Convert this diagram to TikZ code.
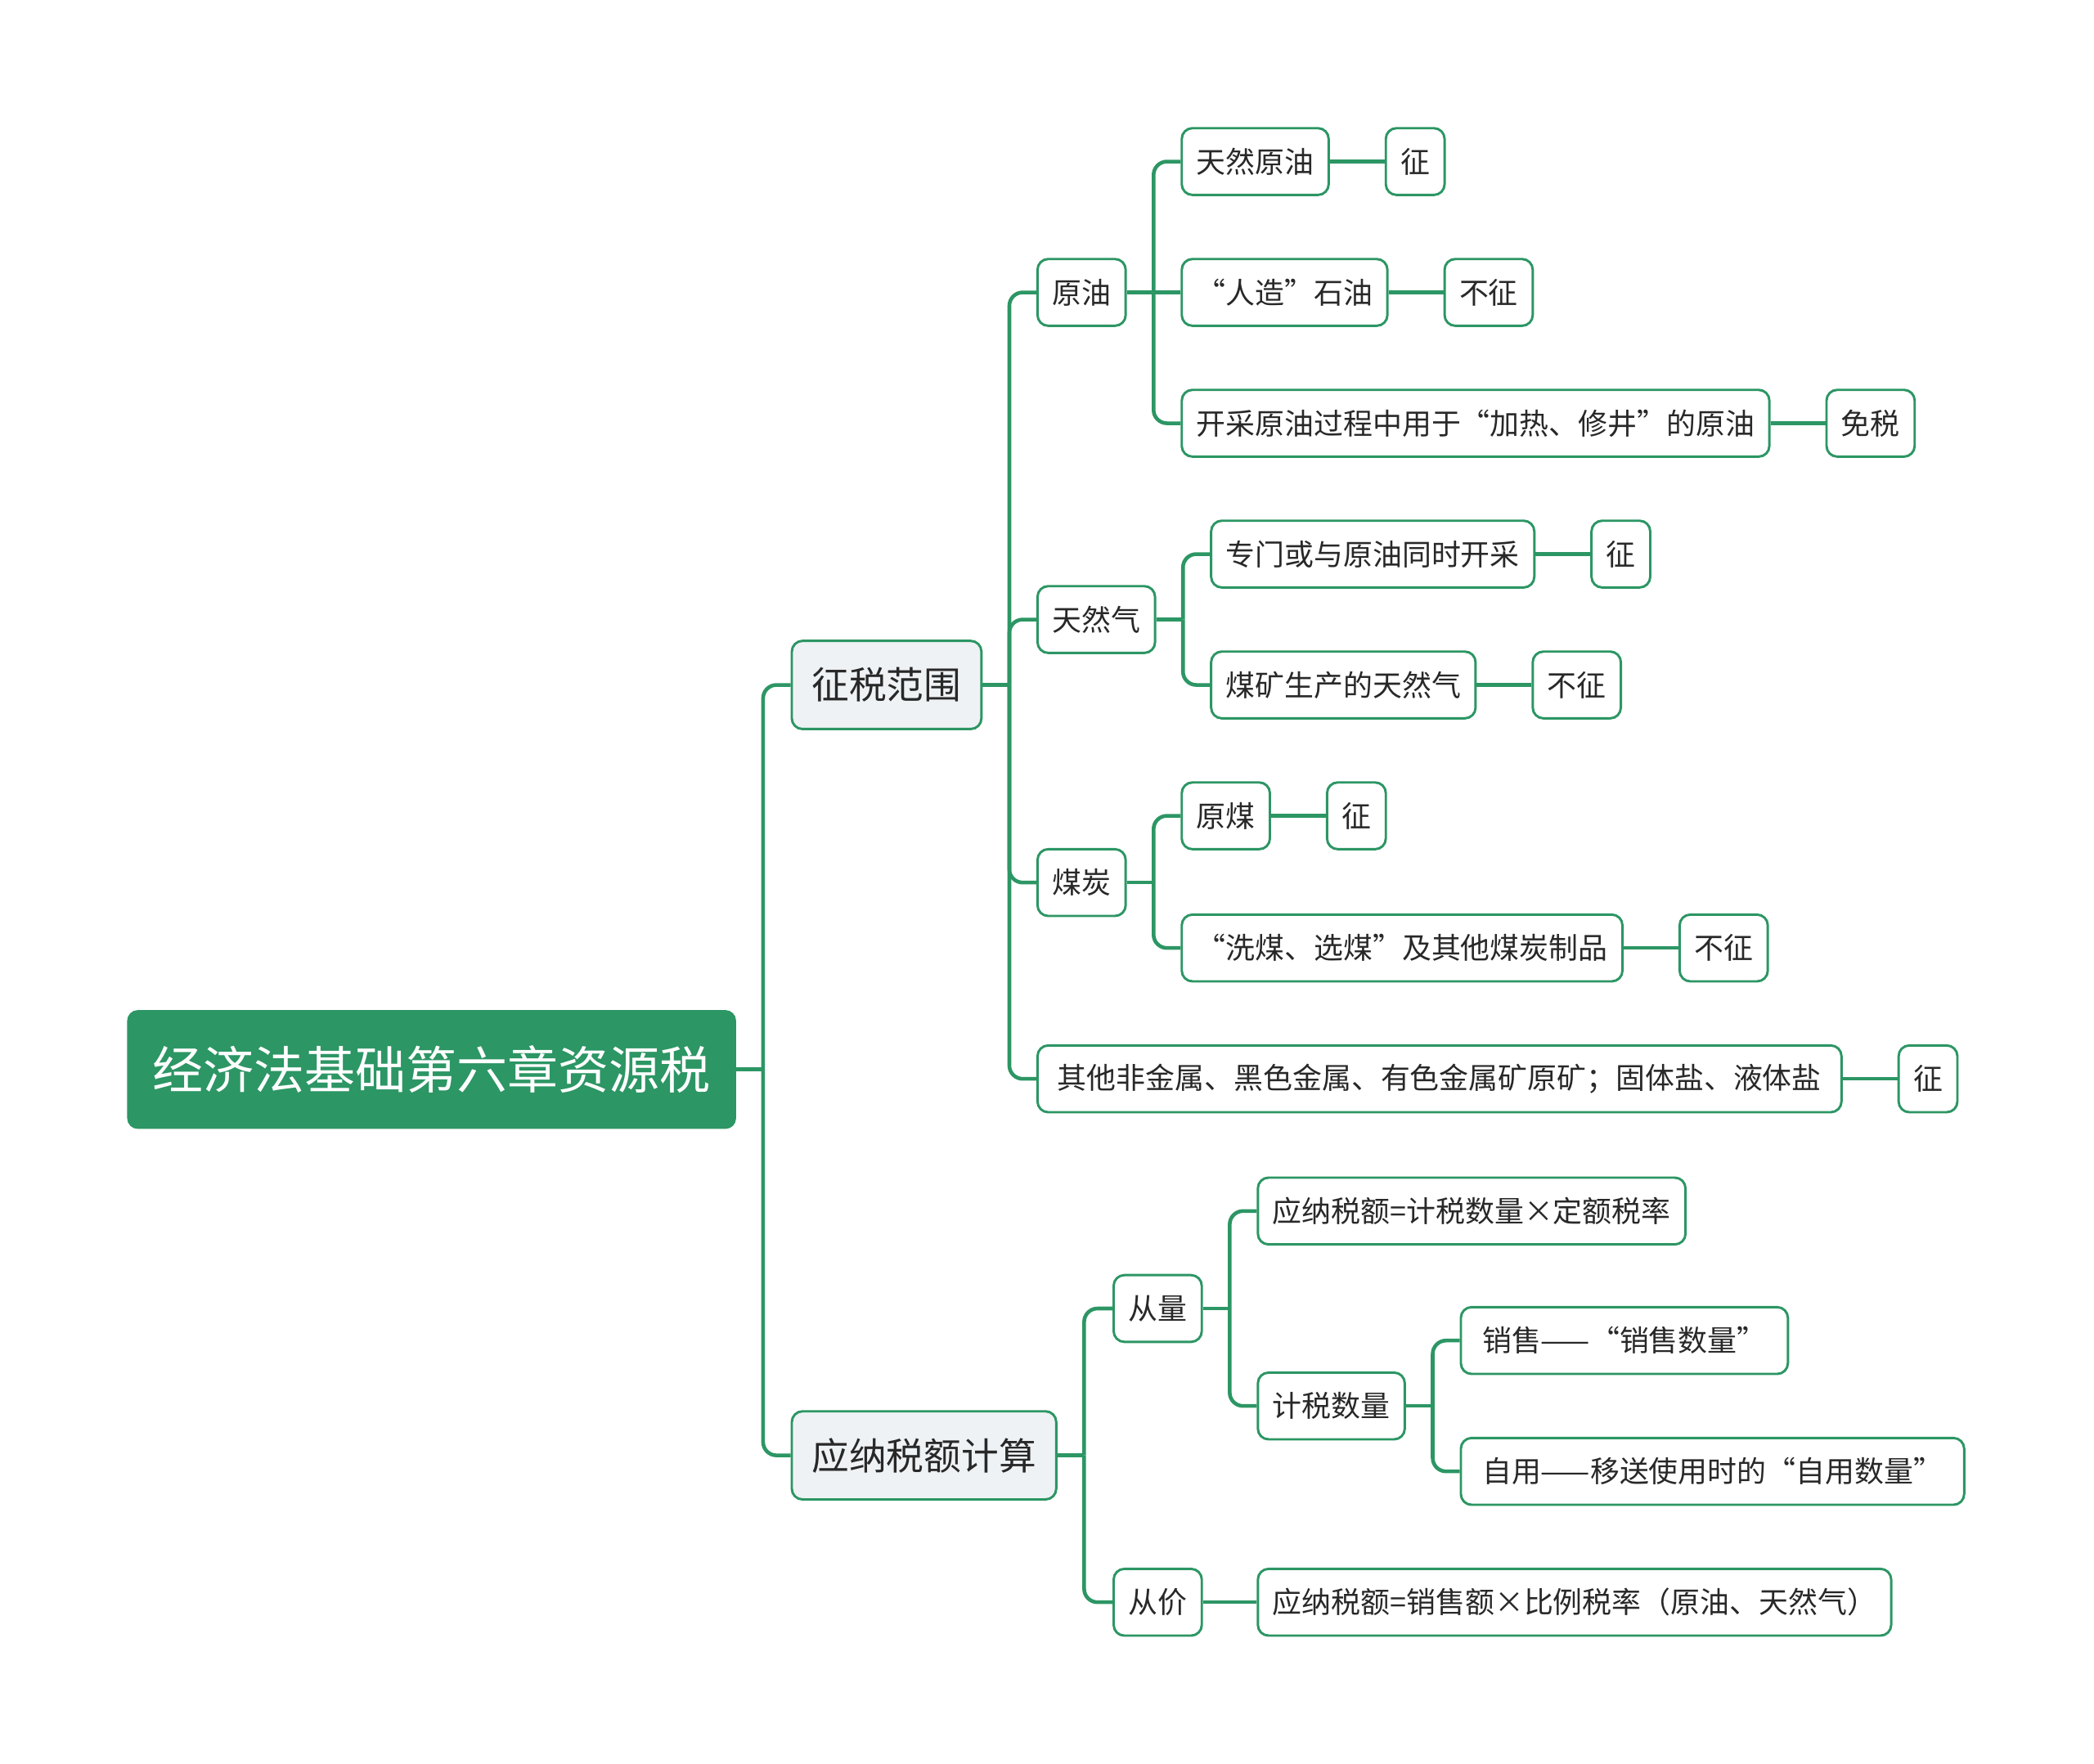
\documentclass[tikz,border=0pt]{standalone}
\usepackage{fontspec}
\setmainfont{Noto Sans CJK SC}
\usetikzlibrary{positioning,backgrounds}
\definecolor{mapgreen}{RGB}{44,150,100}
\definecolor{topicfill}{RGB}{238,242,245}
\definecolor{maptext}{RGB}{40,40,40}
\tikzset{
  map link/.style={line width=2.8pt,draw=mapgreen,rounded corners=10pt},
  map root/.style={rectangle,rounded corners=8pt,fill=mapgreen,text=white,
    font=\fontsize{38}{44}\selectfont,minimum height=89pt,inner xsep=19pt},
  map main/.style={rectangle,rounded corners=8pt,draw=mapgreen,line width=1.8pt,
    fill=topicfill,text=maptext,font=\fontsize{28}{32}\selectfont,
    minimum height=66pt,inner xsep=15pt},
  map sub/.style={rectangle,rounded corners=8pt,draw=mapgreen,line width=1.8pt,
    fill=white,text=maptext,font=\fontsize{22}{26}\selectfont,
    minimum height=50pt,inner xsep=11pt},
  map leaf/.style={map sub,right=41pt of #1}
}

\begin{document}
\begin{tikzpicture}[x=1pt,y=-1pt]
  \useasboundingbox (0,0) rectangle (1568,1321);
  % root and main branches
  \node[map root,anchor=west] (root) at (95,801) {经济法基础第六章资源税};
  \node[map main,anchor=west] (fs) at (592,513) {征税范围};
  \node[map main,anchor=west] (js) at (592,1090) {应纳税额计算};
  % tax scope
  \node[map sub,anchor=west] (yy) at (776,219) {原油};
  \node[map sub,anchor=west] (trq) at (776,464) {天然气};
  \node[map sub,anchor=west] (mt) at (776,661) {煤炭};
  \node[map sub,anchor=west,inner xsep=15pt] (qt) at (776,808) {其他非金属、黑色金属、有色金属矿原矿；固体盐、液体盐};
  \node[map sub,anchor=west] (yy1) at (884,121) {天然原油};
  \node[map sub,anchor=west] (yy2) at (884,219) {“人造”石油};
  \node[map sub,anchor=west] (yy3) at (884,317) {开采原油过程中用于“加热、修井”的原油};
  \node[map sub,anchor=west] (trq1) at (906,415) {专门或与原油同时开采};
  \node[map sub,anchor=west] (trq2) at (906,513) {煤矿生产的天然气};
  \node[map sub,anchor=west] (mt1) at (884,611) {原煤};
  \node[map sub,anchor=west] (mt2) at (884,710) {“洗煤、选煤”及其他煤炭制品};
  \node[map leaf=yy1] (yy1-r) {征};
  \node[map leaf=yy2] (yy2-r) {不征};
  \node[map leaf=yy3] (yy3-r) {免税};
  \node[map leaf=trq1] (trq1-r) {征};
  \node[map leaf=trq2] (trq2-r) {不征};
  \node[map leaf=mt1] (mt1-r) {征};
  \node[map leaf=mt2] (mt2-r) {不征};
  \node[map leaf=qt] (qt-r) {征};
  % tax computation
  \node[map sub,anchor=west] (cl) at (833,980) {从量};
  \node[map sub,anchor=west] (cj) at (833,1200) {从价};
  \node[map sub,anchor=west] (cl1) at (941,907) {应纳税额=计税数量×定额税率};
  \node[map sub,anchor=west] (cl2) at (941,1053) {计税数量};
  \node[map sub,anchor=west,inner xsep=16pt] (cl21) at (1093,1004) {销售——“销售数量”};
  \node[map sub,anchor=west,inner xsep=16pt] (cl22) at (1093,1102) {自用——移送使用时的“自用数量”};
  \node[map sub,anchor=west] (cj1) at (941,1200) {应纳税额=销售额×比例税率（原油、天然气）};
  % connectors
  \begin{scope}[on background layer]
    \foreach \p in {root,fs,yy,trq,mt,js,cl,cl2}
      \draw[map link] (\p.east) -- ++(20,0) coordinate (\p-j);
    \foreach \p/\c in {root/fs,root/js,fs/yy,fs/trq,fs/mt,fs/qt,yy/yy1,yy/yy3,
        trq/trq1,trq/trq2,mt/mt1,mt/mt2,js/cl,js/cj,cl/cl1,cl/cl2,cl2/cl21,cl2/cl22}
      \draw[map link] (\p-j) |- (\c.west);
    \draw[map link] (yy.east) -- (yy2.west);
    \draw[map link] (cj.east) -- (cj1.west);
    \foreach \c in {yy1,yy2,yy3,trq1,trq2,mt1,mt2,qt}
      \draw[map link] (\c.east) -- (\c-r.west);
  \end{scope}
\end{tikzpicture}
\end{document}
